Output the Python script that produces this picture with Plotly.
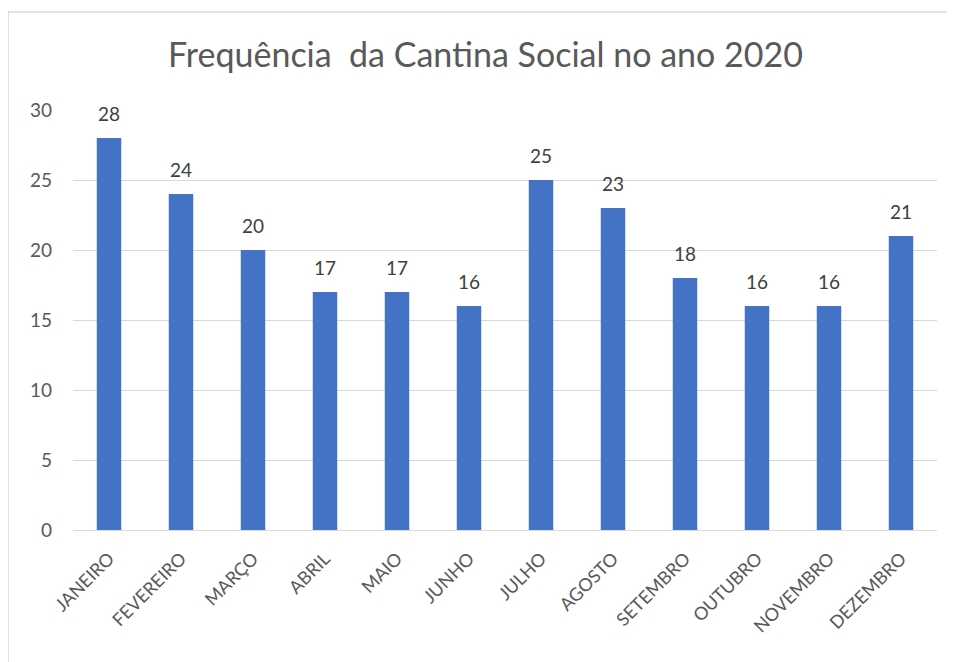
import plotly.graph_objects as go

months = ["JANEIRO", "FEVEREIRO", "MARÇO", "ABRIL", "MAIO", "JUNHO",
          "JULHO", "AGOSTO", "SETEMBRO", "OUTUBRO", "NOVEMBRO", "DEZEMBRO"]
values = [28, 24, 20, 17, 17, 16, 25, 23, 18, 16, 16, 21]
y_ticks = [0, 5, 10, 15, 20, 25, 30]

FONT = "Lato, 'Open Sans', sans-serif"

fig = go.Figure(go.Bar(
    x=months, y=values,
    marker=dict(color="#4472C4", line=dict(width=0)),
    width=0.34,
    hoverinfo="x+y",
))

for m, v in zip(months, values):
    fig.add_annotation(x=m, y=v, text=str(v), showarrow=False,
                       yshift=25, yanchor="middle",
                       font=dict(size=19, color="#404040", family=FONT))

fig.update_layout(
    width=955, height=662,
    margin=dict(l=65, r=26, t=102, b=140),
    paper_bgcolor="white", plot_bgcolor="white",
    title=dict(text="Frequência  da Cantina Social no ano 2020",
               x=0.5, xanchor="center", y=1 - 47 / 662, yanchor="middle",
               font=dict(size=34, color="#595959", family=FONT)),
    showlegend=False,
    xaxis=dict(tickangle=-45, tickfont=dict(size=18, color="#595959", family=FONT),
               showgrid=False, showline=True, linecolor="#D9D9D9", linewidth=1,
               ticks="", ticklabelstandoff=10),
    yaxis=dict(range=[0, 30], tickvals=y_ticks, ticktext=[str(t) for t in y_ticks],
               tickfont=dict(size=19, color="#595959", family=FONT),
               showgrid=True, gridcolor="#D9D9D9", gridwidth=1,
               zeroline=False, showline=False, ticks="", ticklabelstandoff=20),
    shapes=[dict(type="rect", xref="paper", yref="paper",
                 x0=-0.0752, x1=1.03, y0=-0.34, y1=1.2333,
                 line=dict(color="#D9D9D9", width=1.5), layer="below")],
)

fig.write_html("out.html")
